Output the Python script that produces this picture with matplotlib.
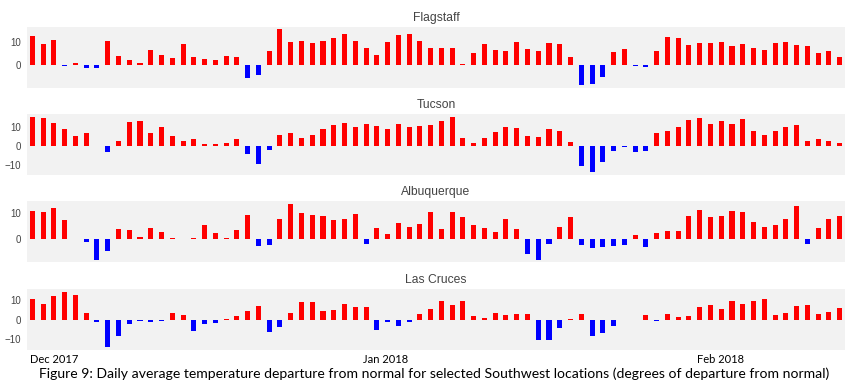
import numpy as np
import pandas as pd
import matplotlib
matplotlib.use("Agg")
import matplotlib.pyplot as plt
from matplotlib.ticker import MultipleLocator

# Daily departure from normal (deg), Dec 1 2017 .. Feb 14 2018
dates = pd.date_range("2017-12-01", periods=76, freq="D")

flagstaff = [12.9, 9.3, 10.9, -0.5, 0.9, -1.0, -1.2, 10.4, 4.1, 2.2,
             0.9, 6.5, 4.6, 3.0, 9.3, 3.8, 2.9, 2.5, 4.1, 3.5,
             -5.4, -4.1, 6.1, 15.7, 10.0, 10.6, 9.6, 10.6, 11.9, 13.5,
             10.4, 7.4, 4.3, 10.3, 13.2, 13.8, 10.6, 7.5, 7.4, 7.4,
             0.5, 5.4, 9.3, 6.8, 6.2, 10.1, 6.9, 6.4, 9.7, 9.3,
             3.6, -8.4, -8.0, -5.1, 5.8, 7.2, -0.3, -0.9, 6.1, 12.5,
             11.7, 8.8, 9.7, 9.7, 10.1, 8.4, 9.4, 7.7, 6.7, 9.6,
             10.0, 9.0, 8.3, 5.2, 6.1, 3.5]

tucson = [15.3, 14.9, 12.1, 8.9, 5.1, 6.7, 0.2, -3.3, 2.8, 12.6,
          13.3, 6.7, 10.0, 5.4, 2.6, 3.7, 1.2, 0.9, 1.4, 3.5,
          -4.0, -9.6, -2.1, 6.0, 7.0, 4.0, 5.8, 8.9, 10.9, 11.9,
          9.8, 11.8, 10.5, 8.9, 11.6, 10.0, 10.4, 11.2, 13.0, 15.3,
          4.0, 1.8, 4.2, 7.4, 9.8, 9.3, 5.3, 4.6, 8.8, 7.9,
          2.1, -10.5, -13.7, -8.6, -2.6, -0.5, -3.0, -2.8, 6.8, 7.9,
          9.8, 13.5, 14.7, 11.6, 13.2, 11.4, 14.0, 7.9, 5.6, 7.7,
          10.2, 10.9, 2.6, 3.7, 2.8, 1.8]

albuquerque = [10.5, 10.3, 11.7, 7.1, -0.3, -1.2, -8.1, -4.7, 3.6, 3.2,
               0.5, 4.0, 2.7, 0.3, 0.0, 0.2, 5.1, 2.2, 0.1, 3.5,
               9.0, -2.9, -2.4, 7.6, 13.2, 9.7, 9.2, 8.6, 7.2, 7.7,
               9.6, -2.1, 4.0, 1.9, 5.9, 4.4, 5.8, 10.4, 3.8, 10.3,
               8.2, 5.1, 4.1, 2.4, 7.6, 3.8, -6.0, -8.1, -2.1, 4.4,
               8.3, -2.4, -3.5, -3.1, -2.8, -2.4, 1.5, -3.1, 2.2, 3.1,
               2.8, 8.7, 11.2, 8.3, 8.7, 10.5, 10.3, 6.5, 4.4, 5.1,
               7.4, 12.7, -2.2, 4.2, 7.6, 8.7]

las_cruces = [10.3, 7.8, 12.0, 14.1, 12.4, 3.4, -1.4, -13.7, -8.3, -2.0,
              -0.5, -1.2, -0.8, 3.4, 2.4, -5.9, -2.2, -1.7, 0.3, 1.9,
              4.4, 6.9, -6.4, -3.6, 3.4, 9.0, 9.0, 4.6, 4.9, 8.0,
              6.4, 6.3, -5.1, -1.2, -3.1, -1.4, 2.8, 5.4, 9.7, 7.5,
              9.7, 1.7, 1.0, 3.4, 2.5, 2.7, 2.7, -10.5, -10.2, -4.4,
              0.5, 2.9, -8.1, -6.6, -3.4, -0.3, -0.3, 2.4, -0.5, 2.9,
              1.2, 2.0, 6.4, 7.6, 5.4, 9.7, 8.1, 9.5, 10.7, 2.2,
              3.6, 6.9, 7.6, 3.1, 3.7, 5.9]

stations = ["Flagstaff", "Tucson", "Albuquerque", "Las Cruces"]
series = [flagstaff, tucson, albuquerque, las_cruces]
ylims = [(-9.9, 16.7), (-15.3, 16.8), (-9.0, 14.5), (-15.4, 15.6)]

tick_dates = pd.to_datetime(["2017-12-01", "2018-01-01", "2018-02-01"])
tick_labels = ["Dec 2017", "Jan 2018", "Feb 2018"]

W, H = 849, 384
fig = plt.figure(figsize=(W / 100, H / 100), dpi=100)

# panel pixel boxes: (top, bottom)
boxes = [(27, 88), (114, 175), (201, 262), (289, 350)]
left, right = 27, 845

for i, (name, vals) in enumerate(zip(stations, series)):
    top, bot = boxes[i]
    ax = fig.add_axes([left / W, 1 - bot / H, (right - left) / W, (bot - top) / H])
    ax.set_facecolor("#f2f2f2")
    vals = np.array(vals)
    colors = np.where(vals >= 0, "#ff0000", "#0000ff")
    ax.bar(dates, vals, width=0.47, color=colors, edgecolor="none")
    ax.set_xlim(dates[0] - pd.Timedelta(hours=12), dates[-1] + pd.Timedelta(hours=12))
    ax.set_ylim(*ylims[i])
    ax.yaxis.set_major_locator(MultipleLocator(10))
    ax.tick_params(axis="y", length=0, pad=4, labelsize=7, labelcolor="#444444")
    for lab in ax.get_yticklabels():
        lab.set_fontfamily("Liberation Sans")
    for s in ax.spines.values():
        s.set_visible(False)
    ax.set_title(name, fontsize=8.7, color="#444444", family="Liberation Sans", pad=4)
    if i < 3:
        ax.set_xticks([])
    else:
        ax.set_xticks(tick_dates - pd.Timedelta(hours=6))
        ax.set_xticklabels(tick_labels, ha="left", fontsize=8, family="Lato")
        ax.tick_params(axis="x", length=0, pad=3)

fig.text(434 / W, 1 - 374 / H,
         "Figure 9: Daily average temperature departure from normal for selected "
         "Southwest locations (degrees of departure from normal)",
         ha="center", va="center", fontsize=10.1, family="Lato", color="black")

fig.savefig("out.png", dpi=100)
